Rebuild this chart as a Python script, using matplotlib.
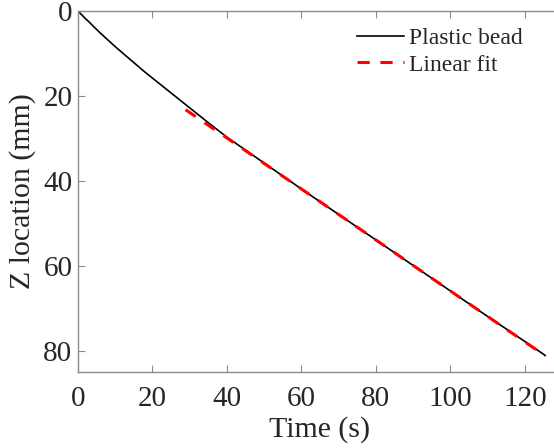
import matplotlib
matplotlib.use("Agg")
import matplotlib.pyplot as plt
import numpy as np

# Measured bead track: time (s) and depth (mm)
time_s = [0, 1, 2, 3, 4, 6, 8, 10, 12, 14, 16, 18, 20, 23, 26, 30, 35, 40,
          50, 60, 70, 80, 90, 100, 110, 120, 125.5]
z_mm = [0, 0.9, 1.8, 2.6, 3.5, 5.2, 6.8, 8.4, 9.9, 11.4, 12.9, 14.4, 15.8, 17.9,
        20.0, 22.8, 26.3, 29.7, 35.8, 41.9, 47.9, 53.9, 59.9, 65.9, 71.9, 77.8, 81.1]

# Linear fit over the steady-state part
fit_slope = 0.6
fit_intercept = 5.9
fit_range = [28.9, 125.5]

x_ticks = [0, 20, 40, 60, 80, 100, 120]
y_ticks = [0, 20, 40, 60, 80]

plt.rcParams["font.family"] = ["Liberation Serif", "DejaVu Serif"]

fig = plt.figure(figsize=(5.54, 4.48), dpi=100)
ax = fig.add_axes([78 / 554, 76 / 448, 484 / 554, 361 / 448])

ax.plot(time_s, z_mm, color="black", lw=1.2, label="Plastic bead", zorder=2,
        solid_joinstyle="round")
fit_t = np.array(fit_range)
ax.plot(fit_t, fit_slope * fit_t + fit_intercept, color="#ff0000", lw=2.2,
        dashes=(4, 3.5), label="Linear fit", zorder=3)

ax.set_xlim(0, 130)
ax.set_ylim(85, 0)
ax.set_xticks(x_ticks)
ax.set_yticks(y_ticks)

spine_color = "#8c8c8c"
for side in ["left", "bottom", "top"]:
    ax.spines[side].set_color(spine_color)
    ax.spines[side].set_linewidth(1.0)
ax.spines["right"].set_visible(False)
ax.tick_params(direction="in", length=5, width=0.8, color=spine_color,
               labelsize=21, labelcolor="#262626", top=True, right=False)
ax.tick_params(axis="x", pad=10)
ax.tick_params(axis="y", pad=4)

ax.set_xlabel("Time (s)", fontsize=21.5, color="#262626", labelpad=3)
ax.set_ylabel("Z location (mm)", fontsize=21.5, color="#262626", labelpad=5)

leg = ax.legend(loc="upper left", bbox_to_anchor=(345 / 554, 1 - 16 / 448),
                bbox_transform=fig.transFigure, frameon=False, fontsize=17,
                handlelength=2.0, handletextpad=0.2, borderpad=0, labelspacing=0.2)
for t in leg.get_texts():
    t.set_color("#262626")

fig.savefig("out.png", dpi=100)
